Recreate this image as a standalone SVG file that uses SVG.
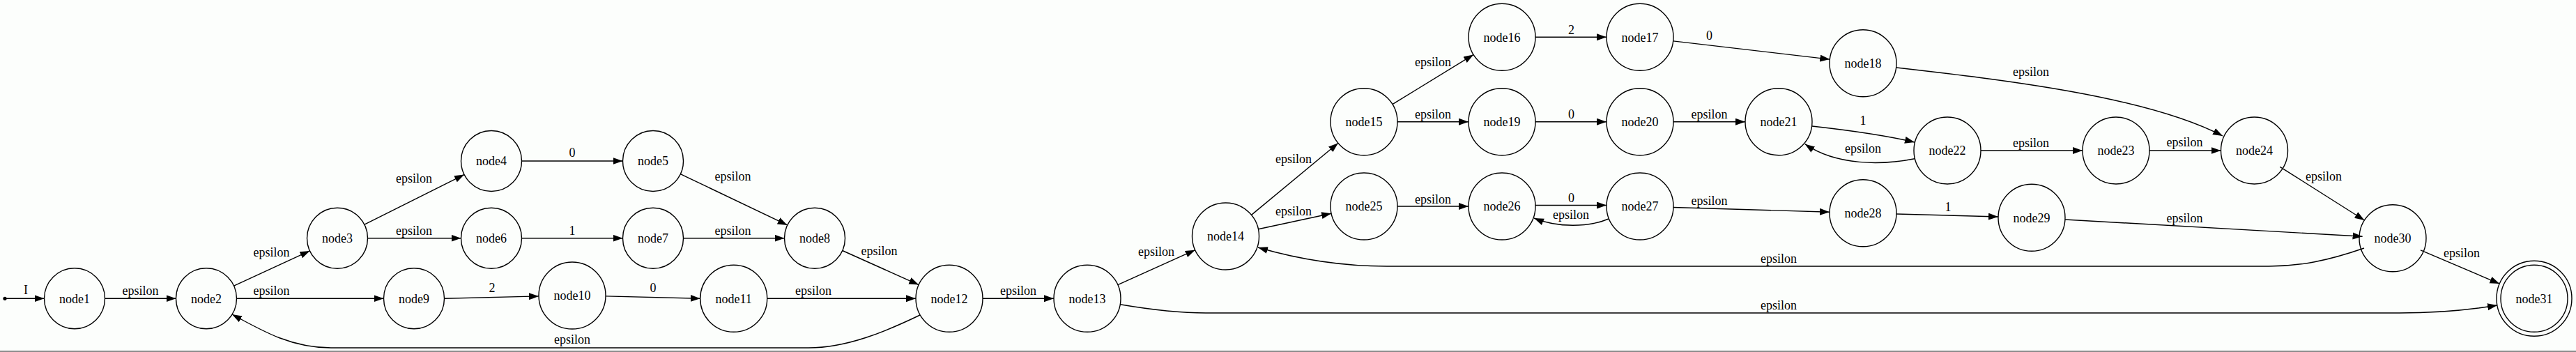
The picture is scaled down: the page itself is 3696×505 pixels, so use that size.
<svg xmlns="http://www.w3.org/2000/svg" width="3696" height="505" viewBox="0 0 3696 505">
<defs>
<style>
.n{fill:none;stroke:#000;stroke-width:1.4}
.t{font-family:"Liberation Serif","Times New Roman",serif;font-size:18px;fill:#000;text-anchor:middle}
.e{fill:none;stroke:#000;stroke-width:1.4;marker-end:url(#ah)}
</style>
<marker id="ah" markerUnits="userSpaceOnUse" markerWidth="15" markerHeight="11" refX="14" refY="5" orient="auto" viewBox="0 0 15 11">
<path d="M0,0 L14,5 L0,10 Z" fill="#000"/>
</marker>
</defs>
<rect width="3696" height="505" fill="#fcfefc"/>
<line x1="0" y1="504" x2="3696" y2="504" stroke="#8c8c8c" stroke-width="2"/>
<g id="connectors">
<path class="e" d="M7,428.3 L63.5,428.3"/>
<text class="t" x="37" y="422">I</text>
<path class="e" d="M150.5,428.3 L252.5,428.3"/>
<text class="t" x="201.5" y="422.5">epsilon</text>
<path class="e" d="M335.5,410.1 L444.5,359.9"/>
<text class="t" x="389.5" y="368">epsilon</text>
<path class="e" d="M339.5,428.3 L550.5,428.3"/>
<text class="t" x="389.5" y="422.5">epsilon</text>
<path class="e" d="M522.9,322.2 L666.1,250.5"/>
<text class="t" x="594" y="261.5">epsilon</text>
<path class="e" d="M527.5,341.7 L661.5,341.7"/>
<text class="t" x="594" y="336.5">epsilon</text>
<path class="e" d="M748.5,231 L893.5,231"/>
<text class="t" x="821" y="225">0</text>
<path class="e" d="M748.5,341.7 L893.5,341.7"/>
<text class="t" x="821" y="336.5">1</text>
<path class="e" d="M637.5,428.2 L773,424.9"/>
<text class="t" x="706" y="418.5">2</text>
<path class="e" d="M869,424.9 L1004.7,428.3"/>
<text class="t" x="937" y="418.5">0</text>
<path class="e" d="M1100.7,428.3 L1314,428.3"/>
<text class="t" x="1167" y="423">epsilon</text>
<path class="e" d="M976.3,249.7 L1129.7,322.9"/>
<text class="t" x="1051.5" y="258.5">epsilon</text>
<path class="e" d="M980.5,341.7 L1125.5,341.7"/>
<text class="t" x="1051.5" y="336.5">epsilon</text>
<path class="e" d="M1208.7,359.5 L1318.2,408.6"/>
<text class="t" x="1261.5" y="366">epsilon</text>
<path class="e" d="M1410,428.3 L1512,428.3"/>
<text class="t" x="1461" y="422.5">epsilon</text>
<path class="e" d="M1603.8,408.6 L1714.7,358.7"/>
<text class="t" x="1659" y="366.5">epsilon</text>
<path class="e" d="M1795.5,308.4 L1920,205.3"/>
<text class="t" x="1856" y="233.5">epsilon</text>
<path class="e" d="M1805.4,328.8 L1910.1,306.2"/>
<text class="t" x="1856" y="308.5">epsilon</text>
<path class="e" d="M1997.9,149.6 L2114.1,78.4"/>
<text class="t" x="2056" y="95">epsilon</text>
<path class="e" d="M2005,174.7 L2107,174.7"/>
<text class="t" x="2056" y="170">epsilon</text>
<path class="e" d="M2203,53.3 L2305,53.3"/>
<text class="t" x="2254.5" y="48.5">2</text>
<path class="e" d="M2203,174.7 L2305,174.7"/>
<text class="t" x="2254.5" y="170">0</text>
<path class="e" d="M2401,174.7 L2504,174.7"/>
<text class="t" x="2452.5" y="170">epsilon</text>
<path class="e" d="M2400.7,58.9 L2625.3,85.1"/>
<text class="t" x="2452.5" y="56.5">0</text>
<path class="e" d="M2600,181 C2645,186 2700,193 2747,204"/>
<text class="t" x="2673" y="178.5">1</text>
<path class="e" d="M2747,227.7 C2700,237 2635,238 2589.8,206.7"/>
<text class="t" x="2673" y="218.5">epsilon</text>
<path class="e" d="M2842,216 L2988,216"/>
<text class="t" x="2914" y="210.5">epsilon</text>
<path class="e" d="M3084,216 L3186.5,216"/>
<text class="t" x="3134.5" y="210">epsilon</text>
<path class="e" d="M2721,97 C2870,114 3080,138 3189,195"/>
<text class="t" x="2914" y="108.5">epsilon</text>
<path class="e" d="M3271.3,239.3 L3392.4,316"/>
<text class="t" x="3334" y="258.5">epsilon</text>
<path class="e" d="M2005,296 L2107,296"/>
<text class="t" x="2056" y="291.5">epsilon</text>
<path class="e" d="M2203,294.5 L2305,294.5"/>
<text class="t" x="2254.5" y="290">0</text>
<path class="e" d="M2308,314 C2280,326 2235,327 2201,313"/>
<text class="t" x="2254" y="314">epsilon</text>
<path class="e" d="M2401,297.5 L2625,304.2"/>
<text class="t" x="2452.5" y="293.5">epsilon</text>
<path class="e" d="M2721,307 L2867,311"/>
<text class="t" x="2795" y="302.5">1</text>
<path class="e" d="M2963,315 L3389.6,339.2"/>
<text class="t" x="3134.5" y="318.5">epsilon</text>
<path class="e" d="M3473,358.8 L3586.3,407.1"/>
<text class="t" x="3532" y="368.5">epsilon</text>
<path class="e" d="M3392,356 C3340,374 3300,382 3255,382 L1990,382 C1930,382 1870,374 1805,355"/>
<text class="t" x="2552" y="376.5">epsilon</text>
<path class="e" d="M1607,436.7 C1650,444 1690,449 1730,449 L3443,449 C3500,449 3540,445 3583,438"/>
<text class="t" x="2552" y="443.5">epsilon</text>
<path class="e" d="M1320,452 C1270,476 1215,499 1160,499 L475,499 C420,499 380,477 333,451"/>
<text class="t" x="821" y="493">epsilon</text>
</g>
<g id="start"><circle cx="7" cy="428.3" r="2.6" fill="#000"/></g>
<g id="node1"><circle class="n" cx="107" cy="428.3" r="43.5"/><text class="t" x="107" y="434.5">node1</text></g>
<g id="node2"><circle class="n" cx="296" cy="428.3" r="43.5"/><text class="t" x="296" y="434.5">node2</text></g>
<g id="node3"><circle class="n" cx="484" cy="341.7" r="43.5"/><text class="t" x="484" y="348">node3</text></g>
<g id="node4"><circle class="n" cx="705" cy="231" r="43.5"/><text class="t" x="705" y="237.3">node4</text></g>
<g id="node5"><circle class="n" cx="937" cy="231" r="43.5"/><text class="t" x="937" y="237.3">node5</text></g>
<g id="node6"><circle class="n" cx="705" cy="341.7" r="43.5"/><text class="t" x="705" y="348">node6</text></g>
<g id="node7"><circle class="n" cx="937" cy="341.7" r="43.5"/><text class="t" x="937" y="348">node7</text></g>
<g id="node8"><circle class="n" cx="1169" cy="341.7" r="43.5"/><text class="t" x="1169" y="348">node8</text></g>
<g id="node9"><circle class="n" cx="594" cy="428.3" r="43.5"/><text class="t" x="594" y="434.5">node9</text></g>
<g id="node10"><circle class="n" cx="821" cy="424" r="48"/><text class="t" x="821" y="430.3">node10</text></g>
<g id="node11"><circle class="n" cx="1052.7" cy="428.3" r="48"/><text class="t" x="1052.7" y="434.5">node11</text></g>
<g id="node12"><circle class="n" cx="1362" cy="428.3" r="48"/><text class="t" x="1362" y="434.5">node12</text></g>
<g id="node13"><circle class="n" cx="1560" cy="428.3" r="48"/><text class="t" x="1560" y="434.5">node13</text></g>
<g id="node14"><circle class="n" cx="1758.5" cy="339" r="48"/><text class="t" x="1758.5" y="345.3">node14</text></g>
<g id="node15"><circle class="n" cx="1957" cy="174.7" r="48"/><text class="t" x="1957" y="181">node15</text></g>
<g id="node16"><circle class="n" cx="2155" cy="53.3" r="48"/><text class="t" x="2155" y="59.6">node16</text></g>
<g id="node17"><circle class="n" cx="2353" cy="53.3" r="48"/><text class="t" x="2353" y="59.6">node17</text></g>
<g id="node18"><circle class="n" cx="2673" cy="90.7" r="48"/><text class="t" x="2673" y="97">node18</text></g>
<g id="node19"><circle class="n" cx="2155" cy="174.7" r="48"/><text class="t" x="2155" y="181">node19</text></g>
<g id="node20"><circle class="n" cx="2353" cy="174.7" r="48"/><text class="t" x="2353" y="181">node20</text></g>
<g id="node21"><circle class="n" cx="2552" cy="174.7" r="48"/><text class="t" x="2552" y="181">node21</text></g>
<g id="node22"><circle class="n" cx="2794" cy="216" r="48"/><text class="t" x="2794" y="222.3">node22</text></g>
<g id="node23"><circle class="n" cx="3036" cy="216" r="48"/><text class="t" x="3036" y="222.3">node23</text></g>
<g id="node24"><circle class="n" cx="3234.5" cy="216" r="48"/><text class="t" x="3234.5" y="222.3">node24</text></g>
<g id="node25"><circle class="n" cx="1957" cy="296" r="48"/><text class="t" x="1957" y="302.3">node25</text></g>
<g id="node26"><circle class="n" cx="2155" cy="296" r="48"/><text class="t" x="2155" y="302.3">node26</text></g>
<g id="node27"><circle class="n" cx="2353" cy="296" r="48"/><text class="t" x="2353" y="302.3">node27</text></g>
<g id="node28"><circle class="n" cx="2673" cy="305.7" r="48"/><text class="t" x="2673" y="312">node28</text></g>
<g id="node29"><circle class="n" cx="2915" cy="312.3" r="48"/><text class="t" x="2915" y="318.6">node29</text></g>
<g id="node30"><circle class="n" cx="3433" cy="341.7" r="48"/><text class="t" x="3433" y="348">node30</text></g>
<g id="node31"><circle class="n" cx="3636" cy="428.3" r="48"/><circle class="n" cx="3636" cy="428.3" r="54"/><text class="t" x="3636" y="434.5">node31</text></g>
</svg>
